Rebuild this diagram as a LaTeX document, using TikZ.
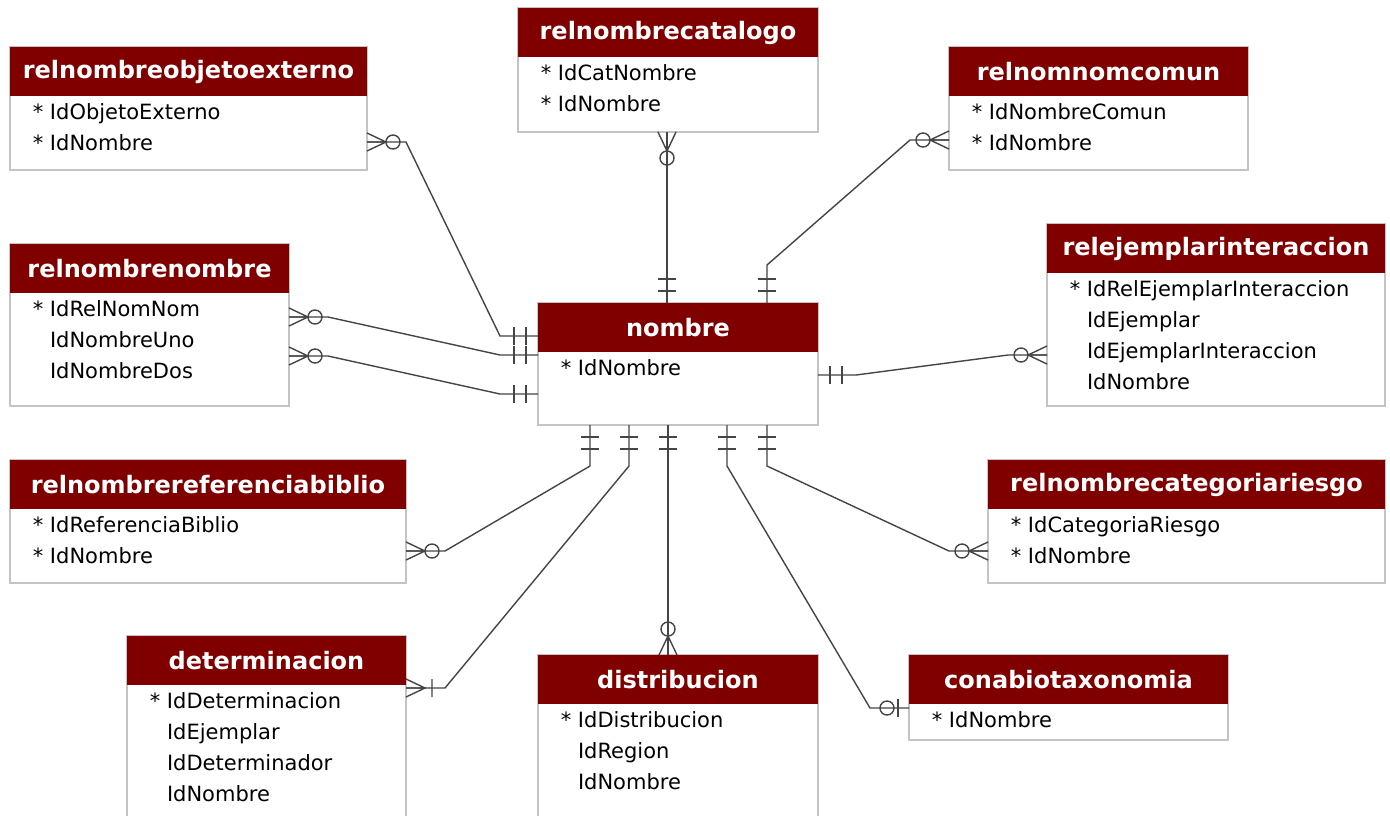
\documentclass[tikz,border=0pt]{standalone}
\usepackage{fontspec}
\setmainfont{DejaVu Sans}
\usetikzlibrary{calc}
\definecolor{granate}{HTML}{800000}
\definecolor{borde}{HTML}{C4C4C4}
\definecolor{trazo}{HTML}{454545}
\newcommand\clave{\llap{* }}
% #1 nombre, #2 esquina, #3 ancho, #4 alto, #5 titulo, #6 campos
\newcommand\tabla[6]{%
  \node[tabla,minimum width=#3,minimum height=#4] (#1) at #2 {};
  \node[cabecera,minimum width=#3] (#1-c) at (#1.north) {#5};
  \node[campos] (#1-f) at ($(#1-c.south west)+(40,7)$) {#6};
}

\begin{document}
\begin{tikzpicture}[x=1pt,y=-1pt,
    linea/.style={draw=trazo,line width=1.4pt},
    cerom/.pic={\draw[linea] (0,-9) -- (19,0) -- (0,9) (0,0) -- (19,0);
                \draw[linea] (26,0) circle[radius=7pt];},
    unom/.pic={\draw[linea] (0,-9) -- (19,0) -- (0,9) (0,0) -- (19,0)
                (26,-9) -- (26,9);},
    unouno/.pic={\draw[linea] (12,-9) -- (12,9) (24,-9) -- (24,9);},
    ceroun/.pic={\draw[linea] (11,-9) -- (11,9);
                 \draw[linea] (22,0) circle[radius=7pt];}]

  \tikzstyle{tabla}=[draw=borde,line width=1.5pt,fill=white,anchor=north west,
                     inner sep=0pt,outer sep=0pt]
  \tikzstyle{cabecera}=[fill=granate,text=white,anchor=north,minimum height=49pt,
                        inner sep=0pt,font=\fontsize{24}{28}\selectfont\bfseries]
  \tikzstyle{campos}=[anchor=north west,align=left,inner sep=0pt,
                      font=\fontsize{21}{31}\selectfont]

  \useasboundingbox (0,0) rectangle (1390,815);
  \clip (0,0) rectangle (1390,815);
  \fill[white] (0,0) rectangle (1390,815);

  \tabla{rnoe}{(10,47)}{357pt}{123pt}{relnombreobjetoexterno}
        {\clave IdObjetoExterno\\ \clave IdNombre}
  \tabla{rnc}{(518,8)}{300pt}{124pt}{relnombrecatalogo}
        {\clave IdCatNombre\\ \clave IdNombre}
  \tabla{rnnc}{(949,47)}{299pt}{123pt}{relnomnomcomun}
        {\clave IdNombreComun\\ \clave IdNombre}
  \tabla{rnn}{(10,244)}{279pt}{162pt}{relnombrenombre}
        {\clave IdRelNomNom\\ IdNombreUno\\ IdNombreDos}
  \tabla{nombre}{(538,303)}{280pt}{122pt}{nombre}
        {\clave IdNombre}
  \tabla{rei}{(1047,224)}{338pt}{182pt}{relejemplarinteraccion}
        {\clave IdRelEjemplarInteraccion\\ IdEjemplar\\ IdEjemplarInteraccion\\ IdNombre}
  \tabla{rnrb}{(10,460)}{396pt}{123pt}{relnombrereferenciabiblio}
        {\clave IdReferenciaBiblio\\ \clave IdNombre}
  \tabla{rncr}{(988,460)}{397pt}{123pt}{relnombrecategoriariesgo}
        {\clave IdCategoriaRiesgo\\ \clave IdNombre}
  \tabla{det}{(127,636)}{279pt}{190pt}{determinacion}
        {\clave IdDeterminacion\\ IdEjemplar\\ IdDeterminador\\ IdNombre}
  \tabla{dist}{(538,655)}{280pt}{170pt}{distribucion}
        {\clave IdDistribucion\\ IdRegion\\ IdNombre}
  \tabla{cbt}{(909,655)}{319pt}{85pt}{conabiotaxonomia}
        {\clave IdNombre}

  % relaciones
  \draw[linea] ($(rnoe.north east)+(0,95)$) pic{cerom} -- ++(39,0)
    -- ($(nombre.north west)+(-38,33)$) -- ($(nombre.north west)+(0,33)$) pic[rotate=180]{unouno};
  \draw[linea] ($(rnn.north east)+(0,73)$) pic{cerom} -- ++(39,0)
    -- ($(nombre.north west)+(-38,52)$) -- ($(nombre.north west)+(0,52)$) pic[rotate=180]{unouno};
  \draw[linea] ($(rnn.north east)+(0,112)$) pic{cerom} -- ++(39,0)
    -- ($(nombre.north west)+(-38,91)$) -- ($(nombre.north west)+(0,91)$) pic[rotate=180]{unouno};
  \draw[linea] ($(rnc.south west)+(149,0)$) pic[rotate=-90]{cerom}
    -- ($(nombre.north west)+(129,0)$) pic[rotate=90]{unouno};
  \draw[linea] ($(rnnc.north west)+(0,93)$) pic[rotate=180]{cerom} -- ++(-39,0)
    -- ($(nombre.north west)+(229,-38)$) -- ($(nombre.north west)+(229,0)$) pic[rotate=90]{unouno};
  \draw[linea] ($(rei.north west)+(0,131)$) pic[rotate=180]{cerom} -- ++(-39,0)
    -- ($(nombre.north east)+(38,72)$) -- ($(nombre.north east)+(0,72)$) pic{unouno};
  \draw[linea] ($(rnrb.north east)+(0,91)$) pic{cerom} -- ++(39,0)
    -- ($(nombre.south west)+(52,41)$) -- ($(nombre.south west)+(52,0)$) pic[rotate=-90]{unouno};
  \draw[linea] ($(det.north east)+(0,52)$) pic{unom} -- ++(39,0)
    -- ($(nombre.south west)+(91,41)$) -- ($(nombre.south west)+(91,0)$) pic[rotate=-90]{unouno};
  \draw[linea] ($(dist.north west)+(130,0)$) pic[rotate=90]{cerom}
    -- ($(nombre.south west)+(130,0)$) pic[rotate=-90]{unouno};
  \draw[linea] ($(cbt.north west)+(0,53)$) pic[rotate=180]{ceroun} -- ++(-39,0)
    -- ($(nombre.south west)+(189,41)$) -- ($(nombre.south west)+(189,0)$) pic[rotate=-90]{unouno};
  \draw[linea] ($(rncr.north west)+(0,91)$) pic[rotate=180]{cerom} -- ++(-39,0)
    -- ($(nombre.south west)+(229,41)$) -- ($(nombre.south west)+(229,0)$) pic[rotate=-90]{unouno};
\end{tikzpicture}
\end{document}
